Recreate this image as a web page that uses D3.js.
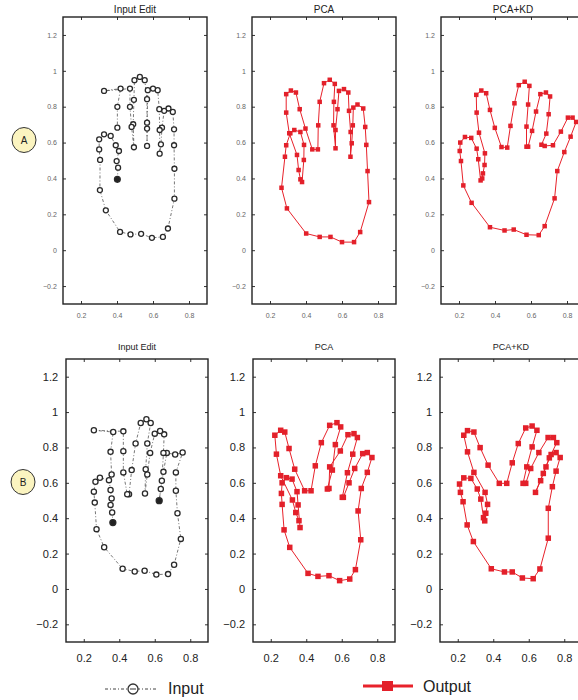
<!DOCTYPE html>
<html lang="en">
<head>
  <meta charset="UTF-8" />
  <title>Hand edits: Input, PCA, PCA+KD</title>
  <script src="https://d3js.org/d3.v7.min.js"></script>
  <style>
    body { font-family: 'Liberation Sans', Arial, sans-serif; margin: 0; background: #fff; overflow: hidden; }
    svg { display: block; }
    .tick text { fill: #444; }
  </style>
</head>
<body>
  <svg></svg>

  <script>
    const titles = ["Input Edit", "PCA", "PCA+KD"];
    const rowLabels = ["A", "B"];
    const xTicks = [0.2, 0.4, 0.6, 0.8];
    const yTicks = [-0.2, 0, 0.2, 0.4, 0.6, 0.8, 1, 1.2];

    // contour points [x, y]
    const inputA = [[0.402,0.395],[0.406,0.460],[0.398,0.497],[0.411,0.553],[0.393,0.585],[0.365,0.637],[0.328,0.646],[0.301,0.618],[0.301,0.562],[0.306,0.503],[0.305,0.335],[0.338,0.222],[0.417,0.102],[0.475,0.088],[0.534,0.091],[0.594,0.069],[0.655,0.074],[0.683,0.121],[0.719,0.287],[0.719,0.454],[0.717,0.585],[0.717,0.674],[0.710,0.771],[0.686,0.790],[0.662,0.777],[0.650,0.683],[0.644,0.590],[0.637,0.538],[0.637,0.670],[0.635,0.786],[0.626,0.892],[0.600,0.901],[0.571,0.892],[0.567,0.711],[0.567,0.581],[0.567,0.678],[0.567,0.842],[0.554,0.948],[0.527,0.966],[0.497,0.948],[0.494,0.838],[0.490,0.702],[0.494,0.574],[0.481,0.687],[0.472,0.799],[0.472,0.901],[0.328,0.888],[0.420,0.901],[0.402,0.799],[0.402,0.683]];
    const pcaA = [[0.378,0.380],[0.388,0.503],[0.389,0.587],[0.369,0.659],[0.335,0.670],[0.313,0.652],[0.290,0.585],[0.283,0.521],[0.264,0.348],[0.294,0.233],[0.401,0.093],[0.476,0.074],[0.536,0.074],[0.600,0.045],[0.667,0.045],[0.701,0.101],[0.750,0.268],[0.742,0.441],[0.735,0.587],[0.729,0.687],[0.718,0.790],[0.686,0.812],[0.663,0.795],[0.660,0.696],[0.654,0.596],[0.647,0.521],[0.648,0.659],[0.639,0.777],[0.635,0.879],[0.611,0.898],[0.583,0.888],[0.575,0.786],[0.564,0.670],[0.564,0.568],[0.553,0.696],[0.555,0.827],[0.560,0.927],[0.532,0.950],[0.500,0.931],[0.476,0.827],[0.468,0.696],[0.466,0.562],[0.435,0.562],[0.397,0.678],[0.365,0.786],[0.344,0.879],[0.316,0.890],[0.290,0.870],[0.290,0.767],[0.307,0.652],[0.350,0.531],[0.359,0.447],[0.369,0.395]];
    const pcaKdA = [[0.320,0.389],[0.307,0.507],[0.298,0.566],[0.268,0.626],[0.233,0.631],[0.207,0.600],[0.204,0.553],[0.211,0.497],[0.224,0.361],[0.270,0.264],[0.372,0.128],[0.453,0.110],[0.504,0.115],[0.575,0.086],[0.643,0.084],[0.676,0.134],[0.731,0.289],[0.746,0.441],[0.785,0.547],[0.820,0.633],[0.851,0.715],[0.831,0.739],[0.805,0.739],[0.766,0.661],[0.722,0.585],[0.676,0.581],[0.658,0.588],[0.685,0.650],[0.698,0.758],[0.706,0.857],[0.683,0.879],[0.652,0.870],[0.628,0.773],[0.606,0.665],[0.584,0.577],[0.575,0.577],[0.575,0.689],[0.584,0.812],[0.591,0.916],[0.565,0.939],[0.532,0.920],[0.508,0.819],[0.486,0.693],[0.468,0.572],[0.436,0.575],[0.399,0.682],[0.372,0.782],[0.351,0.875],[0.324,0.890],[0.296,0.866],[0.298,0.767],[0.311,0.655],[0.344,0.540],[0.342,0.475],[0.333,0.428],[0.329,0.400]];
    const inputB = [[0.364,0.375],[0.360,0.432],[0.351,0.475],[0.357,0.512],[0.351,0.559],[0.342,0.615],[0.291,0.629],[0.266,0.606],[0.257,0.550],[0.262,0.488],[0.272,0.338],[0.315,0.236],[0.419,0.114],[0.487,0.099],[0.543,0.103],[0.609,0.081],[0.675,0.084],[0.709,0.137],[0.747,0.283],[0.728,0.428],[0.719,0.555],[0.719,0.659],[0.757,0.771],[0.715,0.760],[0.668,0.769],[0.649,0.662],[0.634,0.565],[0.625,0.499],[0.640,0.612],[0.649,0.769],[0.653,0.874],[0.630,0.893],[0.600,0.878],[0.574,0.769],[0.558,0.647],[0.545,0.540],[0.549,0.677],[0.558,0.822],[0.577,0.938],[0.553,0.959],[0.521,0.938],[0.492,0.822],[0.470,0.672],[0.455,0.535],[0.445,0.535],[0.423,0.659],[0.423,0.779],[0.423,0.891],[0.257,0.897],[0.366,0.887],[0.351,0.775],[0.357,0.647]];
    const pcaB = [[0.365,0.347],[0.354,0.475],[0.348,0.550],[0.320,0.621],[0.288,0.629],[0.264,0.600],[0.260,0.540],[0.264,0.478],[0.275,0.334],[0.307,0.235],[0.410,0.088],[0.466,0.071],[0.528,0.075],[0.588,0.047],[0.645,0.056],[0.677,0.109],[0.707,0.278],[0.692,0.441],[0.710,0.568],[0.744,0.659],[0.770,0.743],[0.744,0.771],[0.718,0.765],[0.673,0.681],[0.641,0.600],[0.609,0.518],[0.603,0.518],[0.632,0.657],[0.662,0.762],[0.688,0.856],[0.669,0.878],[0.635,0.872],[0.592,0.780],[0.532,0.690],[0.528,0.568],[0.519,0.565],[0.547,0.672],[0.564,0.816],[0.594,0.916],[0.573,0.940],[0.532,0.925],[0.485,0.827],[0.451,0.696],[0.427,0.555],[0.391,0.555],[0.335,0.677],[0.303,0.794],[0.279,0.887],[0.256,0.897],[0.223,0.869],[0.232,0.762],[0.256,0.640],[0.322,0.503],[0.341,0.432],[0.359,0.386]];
    const pcaKdB = [[0.345,0.403],[0.330,0.508],[0.310,0.565],[0.274,0.625],[0.234,0.628],[0.210,0.593],[0.215,0.546],[0.230,0.493],[0.253,0.362],[0.288,0.268],[0.389,0.114],[0.463,0.096],[0.507,0.096],[0.564,0.062],[0.625,0.058],[0.663,0.113],[0.710,0.287],[0.710,0.456],[0.733,0.578],[0.754,0.666],[0.777,0.743],[0.754,0.771],[0.726,0.760],[0.697,0.690],[0.682,0.653],[0.667,0.612],[0.638,0.546],[0.716,0.741],[0.758,0.827],[0.739,0.856],[0.709,0.856],[0.657,0.771],[0.611,0.681],[0.583,0.597],[0.568,0.597],[0.589,0.690],[0.619,0.803],[0.646,0.897],[0.619,0.921],[0.583,0.910],[0.541,0.822],[0.507,0.713],[0.476,0.597],[0.434,0.597],[0.371,0.700],[0.326,0.799],[0.291,0.887],[0.255,0.895],[0.234,0.869],[0.255,0.775],[0.291,0.659],[0.354,0.546],[0.368,0.478],[0.358,0.428],[0.352,0.385]];
    // index of the filled (fixed) input points
    const fixedA = [0];
    const fixedB = [0, 27];

    const W = 578, H = 700;
    const svg = d3.select("svg").attr("width", W).attr("height", H);

    const rows = [
      { y: 17, h: 287, w: 144, xs: [63, 252, 441], tickFont: 7, tickColor: "#666", titleFont: 10, titleY: 13, r: 2.5, sq: 4.5,
        data: [inputA, pcaA, pcaKdA], fixed: fixedA, label: { x: 24, y: 140 } },
      { y: 359, h: 283, w: 142, xs: [66, 253, 440], tickFont: 11, tickColor: "#222", titleFont: 9, titleY: 350, r: 2.6, sq: 5.5,
        data: [inputB, pcaB, pcaKdB], fixed: fixedB, label: { x: 23, y: 482 } }
    ];

    rows.forEach((row, ri) => {
      row.xs.forEach((x0, ci) => {
        const x = d3.scaleLinear().domain([0.1, 0.9]).range([0, row.w]);
        const y = d3.scaleLinear().domain([-0.3, 1.3]).range([row.h, 0]);
        const g = svg.append("g").attr("transform", `translate(${x0},${row.y})`);

        // title
        svg.append("text")
          .attr("x", x0 + row.w / 2).attr("y", row.titleY)
          .attr("text-anchor", "middle")
          .style("font-size", row.titleFont + "px").style("fill", "#222")
          .text(titles[ci]);

        // axes with inward ticks (box style)
        g.append("g").attr("transform", `translate(0,${row.h})`)
          .call(d3.axisBottom(x).tickValues(xTicks).tickSize(-3).tickPadding(row.tickFont * 0.8 + 3).tickFormat(d3.format("")));
        g.append("g")
          .call(d3.axisLeft(y).tickValues(yTicks).tickSize(-3).tickPadding(row.tickFont * 0.45 + 3)
            .tickFormat(d => d < 0 ? "\u2212" + Math.abs(d) : d));
        g.append("g").call(d3.axisTop(x).tickValues(xTicks).tickSize(-3).tickFormat(""));
        g.append("g").attr("transform", `translate(${row.w},0)`)
          .call(d3.axisRight(y).tickValues(yTicks).tickSize(-3).tickFormat(""));
        g.selectAll(".domain").remove();
        g.selectAll(".tick line").attr("stroke", "#333");
        g.selectAll(".tick text").style("font-size", row.tickFont + "px").style("fill", row.tickColor)
          .style("font-family", "'Liberation Sans', Arial, sans-serif");
        g.append("rect").attr("width", row.w).attr("height", row.h)
          .attr("fill", "none").attr("stroke", "#222").attr("stroke-width", 1.4);

        const pts = row.data[ci];
        const line = d3.line().x(d => x(d[0])).y(d => y(d[1]));

        if (ci === 0) {
          g.append("path").datum(pts).attr("d", line)
            .attr("fill", "none").attr("stroke", "#555").attr("stroke-width", 0.8)
            .attr("stroke-dasharray", "3,2,1,2");
          g.selectAll("circle.pt").data(pts).join("circle")
            .attr("class", "pt")
            .attr("cx", d => x(d[0])).attr("cy", d => y(d[1]))
            .attr("r", (d, i) => row.fixed.includes(i) ? row.r + 0.4 : row.r)
            .attr("fill", (d, i) => row.fixed.includes(i) ? "#222" : "#fff")
            .attr("stroke", "#2a2a2a").attr("stroke-width", 1.3);
        } else {
          g.append("path").datum(pts).attr("d", line)
            .attr("fill", "none").attr("stroke", "#e8222b").attr("stroke-width", 1);
          g.selectAll("rect.pt").data(pts).join("rect")
            .attr("class", "pt")
            .attr("x", d => x(d[0]) - row.sq / 2).attr("y", d => y(d[1]) - row.sq / 2)
            .attr("width", row.sq).attr("height", row.sq)
            .attr("fill", "#e3202a");
        }
      });

      // row label bubble
      svg.append("ellipse")
        .attr("cx", row.label.x).attr("cy", row.label.y).attr("rx", 12).attr("ry", 12.5)
        .attr("fill", "#fbf4c0").attr("stroke", "#333").attr("stroke-width", 1);
      svg.append("text")
        .attr("x", row.label.x).attr("y", row.label.y + 3.5)
        .attr("text-anchor", "middle").style("font-size", "10px").style("fill", "#222")
        .text(rowLabels[ri]);
    });

    // legend
    const leg = svg.append("g");
    leg.append("line").attr("x1", 105).attr("x2", 158).attr("y1", 689).attr("y2", 689)
      .attr("stroke", "#444").attr("stroke-width", 1).attr("stroke-dasharray", "3,2,1,2");
    leg.append("circle").attr("cx", 133).attr("cy", 689).attr("r", 5)
      .attr("fill", "#fff").attr("stroke", "#333").attr("stroke-width", 1.3);
    leg.append("line").attr("x1", 130).attr("x2", 136).attr("y1", 689).attr("y2", 689)
      .attr("stroke", "#333").attr("stroke-width", 1);
    leg.append("text").attr("x", 168).attr("y", 694).style("font-size", "16px").style("fill", "#222").text("Input");

    leg.append("line").attr("x1", 363).attr("x2", 413).attr("y1", 686).attr("y2", 686)
      .attr("stroke", "#e8222b").attr("stroke-width", 3);
    leg.append("rect").attr("x", 382).attr("y", 681).attr("width", 11).attr("height", 10).attr("fill", "#e3202a");
    leg.append("text").attr("x", 423).attr("y", 692).style("font-size", "16px").style("fill", "#222").text("Output");
  </script>
</body>
</html>
